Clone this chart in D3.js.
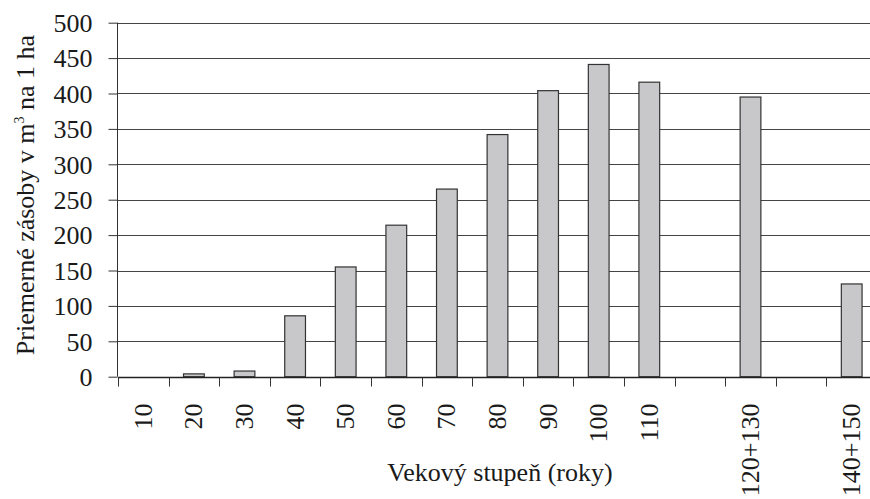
<!DOCTYPE html>
<html><head><meta charset="utf-8">
<script src="https://cdn.jsdelivr.net/npm/d3@7"></script>
<style>body{margin:0;background:#fff}svg{display:block}</style>
</head><body><svg id="c" width="870" height="499" font-family="Liberation Serif"></svg>
<script>
const categories = ["10","20","30","40","50","60","70","80","90","100","110","gap1","120+130","gap2","140+150"];
const labels = ["10","20","30","40","50","60","70","80","90","100","110","","120+130","","140+150"];
const values = [0,4,8,86,155,214,265,342,404,441,416,null,395,null,131];
const yTicks = [0,50,100,150,200,250,300,350,400,450,500];

const FONT = "Liberation Serif";
const FS = 26;
const svg = d3.select("#c");
const x = d3.scaleBand().domain(categories).range([118, 877]).paddingInner(0.59).paddingOuter(0.295);
const xt = d3.scaleBand().domain(categories).range([118, 877]);
const y = d3.scaleLinear().domain([0,500]).range([376.7, 22.7]);

// gridlines
svg.append("g").selectAll("line").data(yTicks.slice(1)).join("line")
  .attr("x1",118).attr("x2",870).attr("y1",d=>Math.round(y(d))+0.5).attr("y2",d=>Math.round(y(d))+0.5)
  .attr("stroke","#444").attr("stroke-width",1);

// bars
svg.append("g").selectAll("rect").data(categories.map((c,i)=>({c,v:values[i]})).filter(d=>d.v!==null && d.v>0)).join("rect")
  .attr("x",d=>x(d.c)).attr("width",x.bandwidth())
  .attr("y",d=>y(d.v)).attr("height",d=>y(0)-y(d.v))
  .attr("fill","#c8c8ca").attr("stroke","#333").attr("stroke-width",1.2);

// y axis
const ya = svg.append("g").attr("transform","translate(117.5,0)")
  .call(d3.axisLeft(y).tickValues(yTicks).tickSize(9).tickPadding(16));
ya.attr("font-family", FONT).attr("font-size", FS);
ya.select(".domain").attr("stroke","#333").attr("d","M0,"+y(500)+"V"+y(0));
ya.selectAll(".tick line").attr("stroke","#333");
ya.selectAll("text").attr("font-family",FONT).attr("font-size",FS).attr("fill","#1a1a1a").attr("dy","0.34em");

// x axis
const xa = svg.append("g").attr("transform","translate(0,"+(Math.round(y(0))+0.5)+")");
xa.append("line").attr("x1",118).attr("x2",870).attr("stroke","#222").attr("stroke-width",1.3);
xa.selectAll(".tk").data(d3.range(categories.length+1)).join("line")
  .attr("x1",i=>Math.round(118+i*xt.step())+0.5).attr("x2",i=>Math.round(118+i*xt.step())+0.5)
  .attr("y1",0).attr("y2",9).attr("stroke","#333");
xa.selectAll(".lb").data(categories).join("text")
  .attr("transform",d=>"translate("+(xt(d)+xt.bandwidth()/2+8.5)+",26) rotate(-90)")
  .attr("text-anchor","end").attr("font-family",FONT).attr("font-size",FS).attr("fill","#1a1a1a")
  .text((d,i)=>labels[i]);

// titles
svg.append("text").attr("x",500).attr("y",481).attr("text-anchor","middle")
  .attr("font-family",FONT).attr("font-size",FS).attr("fill","#1a1a1a").text("Vekový stupeň (roky)");
const yt = svg.append("text").attr("transform","translate(34,195) rotate(-90)").attr("text-anchor","middle")
  .attr("font-family",FONT).attr("font-size",FS).attr("fill","#1a1a1a");
yt.append("tspan").text("Priemerné zásoby v m");
yt.append("tspan").attr("dy","-10").attr("font-size",14).text("3");
yt.append("tspan").attr("dy","10").text(" na 1 ha");
</script></body></html>
